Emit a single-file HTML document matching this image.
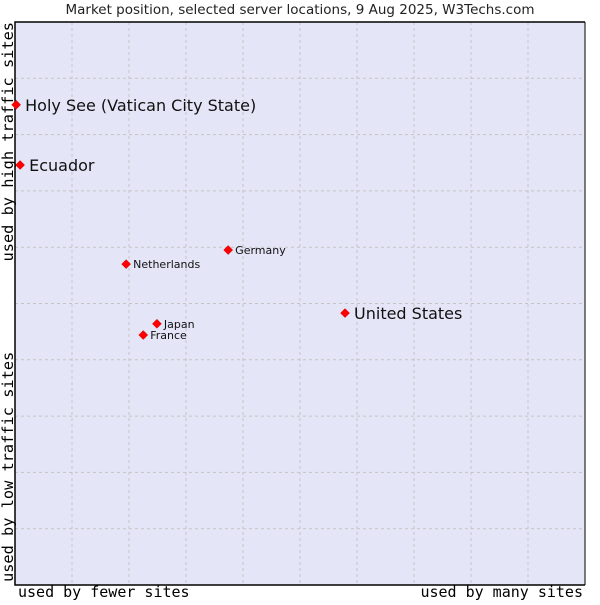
<!DOCTYPE html>
<html><head><meta charset="utf-8"><style>
body{margin:0;background:#fff}
svg text{font-family:"DejaVu Sans","Liberation Sans",sans-serif}
.mono{font-family:"DejaVu Sans Mono","Liberation Mono",monospace!important}
</style></head><body>
<svg id="c" width="600" height="600" xmlns="http://www.w3.org/2000/svg">
<text x="300" y="14" text-anchor="middle" font-size="13.5" fill="#222">Market position, selected server locations, 9 Aug 2025, W3Techs.com</text>
<rect x="15" y="22" width="570" height="563" fill="#e4e6f8" stroke="none"/>
<g id="grid"></g>
<path d="M585 22 H15 V585 H585" fill="none" stroke="#000" stroke-width="1.5"/>
<line x1="585" y1="22" x2="585" y2="585" stroke="#000" stroke-width="1"/>
<text class="mono" x="18" y="597" font-size="15" fill="#000">used by fewer sites</text>
<text class="mono" x="583" y="597" font-size="15" text-anchor="end" fill="#000">used by many sites</text>
<text class="mono" transform="translate(13,582) rotate(-90)" font-size="15.3" fill="#000">used by low traffic sites</text>
<text class="mono" transform="translate(13,22) rotate(-90)" font-size="15.3" text-anchor="end" fill="#000">used by high traffic sites</text>
<g id="pts"></g>
</svg>
<script>
const names=["Holy See (Vatican City State)","Ecuador","Germany","Netherlands","United States","Japan","France"];
const xVals=[0.2,0.9,37.4,19.5,57.9,24.9,22.5];
const yVals=[85.3,74.6,59.5,57.0,48.3,46.4,44.4];
const big=[true,true,false,false,true,false,false];
const L=15,T=22,W=570,H=563;
const sx=v=>L+v/100*W, sy=v=>T+H-v/100*H;
const NS="http://www.w3.org/2000/svg";
const g=document.getElementById('grid');
for(let i=1;i<10;i++){
 const v=document.createElementNS(NS,'line');
 
 
 const x=sx(i*10);v.setAttribute('x1',x);v.setAttribute('x2',x);v.setAttribute('y1',T);v.setAttribute('y2',T+H);
 v.setAttribute('stroke','#c4c4c4');v.setAttribute('stroke-dasharray','3,3');g.appendChild(v);
 const h=document.createElementNS(NS,'line');
 
 
 const y=sy(i*10);h.setAttribute('y1',y);h.setAttribute('y2',y);h.setAttribute('x1',L);h.setAttribute('x2',L+W);
 h.setAttribute('stroke','#c4c4c4');h.setAttribute('stroke-dasharray','3,3');g.appendChild(h);
}
const p=document.getElementById('pts');
names.forEach((n,i)=>{
 const x=sx(xVals[i]),y=sy(yVals[i]);
 const d=document.createElementNS(NS,'path');
 
 
 d.setAttribute('d',`M${x} ${y-4.5}L${x+4.5} ${y}L${x} ${y+4.5}L${x-4.5} ${y}Z`);
 d.setAttribute('fill','#f00');d.setAttribute('stroke','#c00');d.setAttribute('stroke-width','0.5');
 p.appendChild(d);
 const t=document.createElementNS(NS,'text');
 
 
 t.setAttribute('x',x+(big[i]?9:7));t.setAttribute('y',y+(big[i]?6:4));
 t.setAttribute('font-size',big[i]?16:11);t.setAttribute('fill','#111');
 t.textContent=n;p.appendChild(t);
});
</script>
</body></html>
